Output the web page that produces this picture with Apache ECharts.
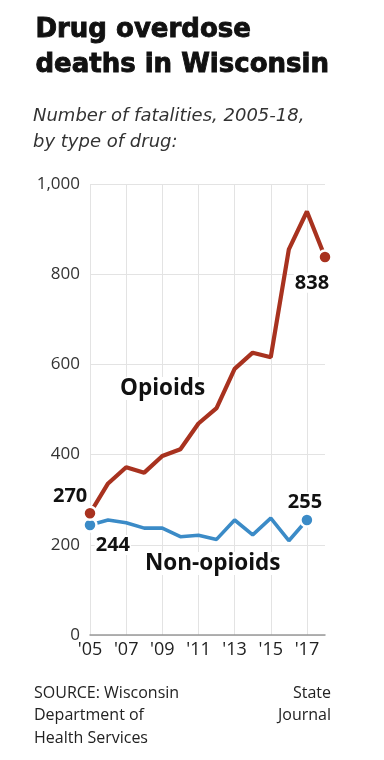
<!DOCTYPE html>
<html><head><meta charset="utf-8">
<script src="https://cdn.jsdelivr.net/npm/echarts@6/dist/echarts.min.js"></script>
<style>html,body{margin:0;padding:0;background:#fff}#c{width:384px;height:760px}</style>
</head><body><div id="c"></div>
<script>
const years = ['2005','2006','2007','2008','2009','2010','2011','2012','2013','2014','2015','2016','2017','2018'];
const opioids = [270, 336, 372, 360, 397, 412, 469, 503, 590, 626, 616, 855, 939, 838];
const nonOpioids = [244, 255, 249, 237, 237, 218, 221, 212, 255, 222, 259, 209, 255];
const yTicks = [0, 200, 400, 600, 800, 1000];

const RED = '#a8321f', BLUE = '#3b8bc7';
const numFont = {fontFamily: 'Open Sans', fontWeight: 'bold', fontSize: 20, color: '#111', backgroundColor: '#fff', padding: [0, 1]};

function build(arr, color, labels) {
  return arr.map((v, i) => {
    const last = i === arr.length - 1;
    if (i === 0 || last) {
      const item = {value: v, symbol: 'circle', symbolSize: 13,
        itemStyle: {color: color, borderColor: '#fff', borderWidth: 2.5}};
      if (labels[i]) item.label = Object.assign({show: true, formatter: String(v)}, numFont, labels[i]);
      return item;
    }
    return {value: v, symbol: 'none'};
  });
}

const chart = echarts.init(document.getElementById('c'));
chart.setOption({
  animation: false,
  grid: {left: 90, right: 59, top: 184, bottom: 125},
  xAxis: {
    type: 'category', data: years, boundaryGap: false,
    axisTick: {show: false},
    axisLine: {lineStyle: {color: '#999', width: 1.5}},
    axisLabel: {interval: 1, formatter: v => "'" + v.slice(2), fontFamily: 'Open Sans', fontSize: 18, color: '#222', margin: 6},
    splitLine: {show: true, lineStyle: {color: '#e3e3e3', width: 1}}
  },
  yAxis: {
    type: 'value', min: yTicks[0], max: yTicks[yTicks.length - 1], interval: 200,
    axisLine: {show: false}, axisTick: {show: false},
    axisLabel: {formatter: v => v.toLocaleString('en-US'), fontFamily: 'Open Sans', fontSize: 17, color: '#333', margin: 10},
    splitLine: {lineStyle: {color: '#e3e3e3', width: 1}}
  },
  series: [
    {type: 'line', symbol: 'none', showAllSymbol: true, z: 3,
      lineStyle: {color: RED, width: 4.2}, itemStyle: {color: RED},
      data: build(opioids, RED, {0: {position: 'left', offset: [11, -17]}, 13: {position: 'bottom', offset: [-13, 3]}})},
    {type: 'line', symbol: 'none', showAllSymbol: true, z: 2,
      lineStyle: {color: BLUE, width: 3.6}, itemStyle: {color: BLUE},
      data: build(nonOpioids, BLUE, {0: {position: 'right', offset: [-8, 20]}, 12: {position: 'top', offset: [-2, 5]}})}
  ],
  graphic: [
    {type: 'text', left: 35, top: 13, style: {text: 'Drug overdose\ndeaths in Wisconsin', font: 'bold 26px "DejaVu Sans"', lineHeight: 35, fill: '#111', stroke: '#111', lineWidth: 0.9}},
    {type: 'text', left: 33, top: 103, style: {text: 'Number of fatalities, 2005-18,\nby type of drug:', font: 'italic 18px "DejaVu Sans"', lineHeight: 26, fill: '#333'}},
    {type: 'text', left: 118, top: 377, z: 10, style: {text: 'Opioids', font: 'bold 22.5px "Open Sans"', fill: '#111', backgroundColor: '#fff', padding: [0, 2]}},
    {type: 'text', left: 143, top: 552, z: 10, style: {text: 'Non-opioids', font: 'bold 22.5px "Open Sans"', fill: '#111', backgroundColor: '#fff', padding: [0, 2]}},
    {type: 'text', left: 34, top: 682, style: {text: 'SOURCE: Wisconsin\nDepartment of\nHealth Services', font: '16px "Open Sans"', lineHeight: 22.5, fill: '#222'}},
    {type: 'text', right: 53, top: 682, style: {text: 'State', font: '16px "Open Sans"', lineHeight: 22.5, fill: '#222'}},
    {type: 'text', right: 53, top: 704.5, style: {text: 'Journal', font: '16px "Open Sans"', lineHeight: 22.5, fill: '#222'}}
  ]
});
</script></body></html>
